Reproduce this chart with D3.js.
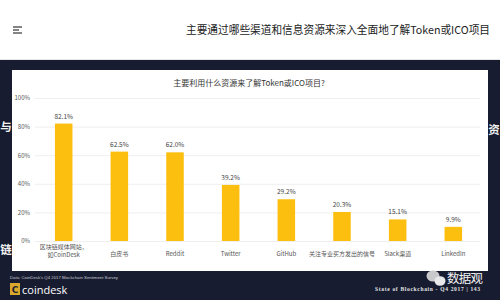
<!DOCTYPE html>
<html><head><meta charset="utf-8">
<script src="https://cdn.jsdelivr.net/npm/d3@7"></script>
<style>html,body{margin:0;padding:0;background:#fff;}svg{display:block;}</style>
</head><body>
<script>
const categories = ["区块链媒体网站，|如CoinDesk", "白皮书", "Reddit", "Twitter", "GitHub", "关注专业买方发出的信号", "Slack渠道", "LinkedIn"];
const values = [82.1, 62.5, 62.0, 39.2, 29.2, 20.3, 15.1, 9.9];
const yTicks = [0, 20, 40, 60, 80, 100];
const chartTitle = "主要利用什么资源来了解Token或ICO项目?";
const pageTitle = "主要通过哪些渠道和信息资源来深入全面地了解Token或ICO项目";
const sourceText = "Data: CoinDesk's Q4 2017 Blockchain Sentiment Survey";
const footerText = "State of Blockchain - Q4 2017   |   143";

const W = 500, H = 300;
const svg = d3.select("body").append("svg").attr("width", W).attr("height", H);
const cjk = "'Noto Sans CJK SC','Noto Sans',sans-serif";

// page header
svg.append("rect").attr("width", W).attr("height", H).attr("fill", "#fff");
svg.append("line").attr("x1", 0).attr("x2", W).attr("y1", 59.5).attr("y2", 59.5).attr("stroke", "#e6e6e6");
[0, 1, 2].forEach(i => {
  svg.append("line").attr("x1", 13).attr("x2", i === 1 ? 19 : 22).attr("y1", 27 + i * 3).attr("y2", 27 + i * 3)
    .attr("stroke", "#333").attr("stroke-width", 1.2);
});
svg.append("text").attr("x", 186).attr("y", 34).attr("font-family", cjk).attr("font-size", 11)
  .attr("fill", "#222").attr("textLength", 304).attr("lengthAdjust", "spacingAndGlyphs").text(pageTitle);

// dark slide background
svg.append("rect").attr("x", 0).attr("y", 60).attr("width", W).attr("height", H - 60).attr("fill", "#181c30");
// decorative glyphs at the slide edges
const g0 = svg.append("g").attr("font-family", cjk).attr("font-weight", "bold").attr("fill", "#f2f2f2").attr("font-size", 11.5);
g0.append("text").attr("x", 0.3).attr("y", 131).text("与");
g0.append("text").attr("x", 0.3).attr("y", 254).text("链");
g0.append("text").attr("x", 488.2).attr("y", 134).text("资");

// white panel
svg.append("rect").attr("x", 12).attr("y", 70).attr("width", 476).attr("height", 201).attr("fill", "#fff");

const x = d3.scaleBand().domain(categories).range([36, 481]).paddingInner(0.685).paddingOuter(0.34);
const y = d3.scaleLinear().domain([0, 100]).range([241, 98]);

svg.append("text").attr("x", 249).attr("y", 84).attr("text-anchor", "middle").attr("dominant-baseline", "middle")
  .attr("font-family", cjk).attr("font-size", 8).attr("fill", "#333").text(chartTitle);

// grid + y labels
const yAxis = d3.axisLeft(y).tickValues(yTicks).tickSize(-445).tickFormat(d => d + "%");
const ga = svg.append("g").attr("transform", "translate(35,0)").call(yAxis);
ga.select(".domain").remove();
ga.selectAll(".tick line").attr("stroke", "#ebebeb").attr("stroke-width", 0.8);
ga.selectAll(".tick text").attr("x", -5).attr("font-family", cjk).attr("font-size", 6).attr("fill", "#555");

// bars
svg.append("g").selectAll("rect").data(values).join("rect")
  .attr("x", (d, i) => x(categories[i])).attr("width", x.bandwidth())
  .attr("y", d => y(d)).attr("height", d => y(0) - y(d)).attr("fill", "#FDBF0F");

svg.append("g").selectAll("text").data(values).join("text")
  .attr("x", (d, i) => x(categories[i]) + x.bandwidth() / 2).attr("y", d => y(d) - 5)
  .attr("text-anchor", "middle").attr("font-family", cjk).attr("font-size", 6.5).attr("fill", "#444")
  .text(d => d.toFixed(1) + "%");

// x labels
const xl = svg.append("g").selectAll("text").data(categories).join("text")
  .attr("text-anchor", "middle").attr("font-family", cjk).attr("font-size", 6).attr("fill", "#555");
xl.each(function (c) {
  const parts = c.split("|");
  const cx = x(c) + x.bandwidth() / 2;
  const t = d3.select(this);
  parts.forEach((p, j) => {
    const yy = parts.length > 1 ? 248.5 + j * 8 : 256;
    t.append("tspan").attr("x", cx).attr("y", yy).text(p);
  });
});

// footer
svg.append("text").attr("x", 10).attr("y", 279).attr("font-family", "'Liberation Sans',sans-serif")
  .attr("font-size", 4.3).attr("fill", "#c8cad2").attr("textLength", 108).text(sourceText);
svg.append("rect").attr("x", 10).attr("y", 283).attr("width", 10).attr("height", 12).attr("fill", "#d9a72b");
svg.append("text").attr("x", 15).attr("y", 292.5).attr("text-anchor", "middle").attr("font-family", "'DejaVu Sans',sans-serif")
  .attr("font-weight", "bold").attr("font-size", 9).attr("fill", "#181c30").text("C");
svg.append("text").attr("x", 22).attr("y", 294).attr("font-family", "'Open Sans',sans-serif")
  .attr("font-size", 11).attr("fill", "#fff").text("coindesk");

// wechat-like icon + 数据观
svg.append("ellipse").attr("cx", 433).attr("cy", 276).attr("rx", 6.5).attr("ry", 5.5).attr("fill", "#c9c9cc");
svg.append("ellipse").attr("cx", 440).attr("cy", 281).attr("rx", 5.5).attr("ry", 4.8).attr("fill", "#e8e8ea");
svg.append("text").attr("x", 447).attr("y", 283).attr("font-family", cjk).attr("font-size", 12.5)
  .attr("fill", "#f2f2f2").attr("textLength", 36).text("数据观");
svg.append("text").attr("x", 375).attr("y", 291).attr("font-family", "'Liberation Serif',serif").attr("font-weight", "bold")
  .attr("font-size", 5.5).attr("fill", "#e6e6e6").attr("textLength", 105).text(footerText);
</script>
</body></html>
